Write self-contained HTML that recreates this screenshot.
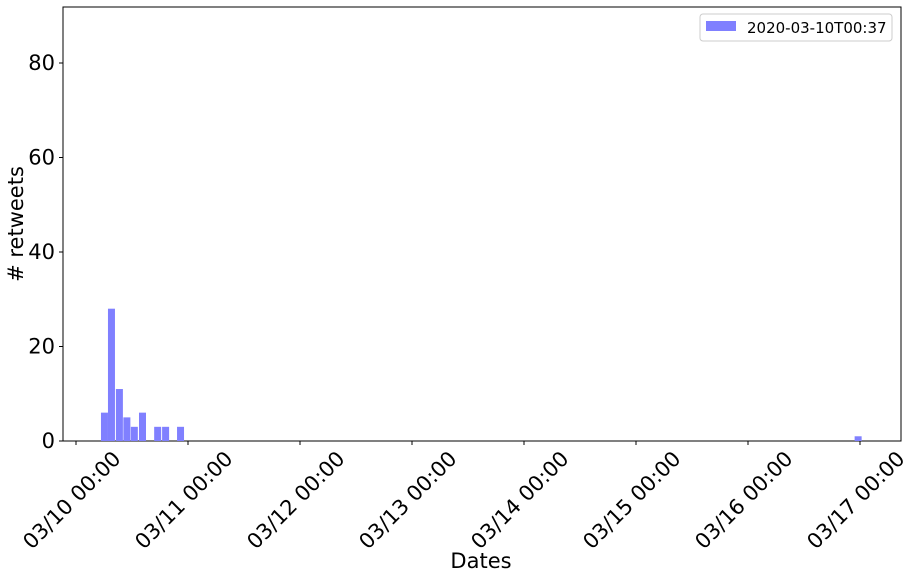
<!DOCTYPE html>
<html><head><meta charset="utf-8"><style>
body{margin:0;background:#fff;}
svg{display:block;font-family:"DejaVu Sans","Liberation Sans",sans-serif;}
</style></head><body>
<svg id="chart" width="916" height="578">
<rect x="63" y="7" width="838" height="434" fill="#fff" stroke="#000" stroke-width="1"/>
<g id="bars"></g><g id="axes"></g>
<g>
<rect x="700" y="14" width="192" height="27" rx="3" fill="#fff" stroke="#ccc"/>
<rect x="706" y="21" width="30" height="10" fill="#8080ff"/>
<text x="747" y="33" font-size="15">2020-03-10T00:37</text>
</g>
<text x="481" y="568" font-size="21" text-anchor="middle">Dates</text>
<text transform="translate(23,224) rotate(-90)" font-size="21" text-anchor="middle"># retweets</text>
</svg>
<script>
const hours=[6.1,7.6,9.3,10.9,12.5,14.25,17.5,19.2,22.4,167.6];
const counts=[6,28,11,5,3,6,3,3,3,1];
const yTicks=[0,20,40,60,80];
const xTickLabels=["03/10 00:00","03/11 00:00","03/12 00:00","03/13 00:00","03/14 00:00","03/15 00:00","03/16 00:00","03/17 00:00"];
const NS="http://www.w3.org/2000/svg";
const X=h=>76+h*112/24, Y=v=>441-v*4.725;
const bars=document.getElementById('bars'), axes=document.getElementById('axes');
hours.forEach((h,i)=>{const r=document.createElementNS(NS,'rect');
r.setAttribute('x',X(h)-3.5);r.setAttribute('width',7);
r.setAttribute('y',Y(counts[i]));r.setAttribute('height',441-Y(counts[i]));
r.setAttribute('fill','#8080ff');


bars.appendChild(r);});
yTicks.forEach(v=>{const l=document.createElementNS(NS,'line');
l.setAttribute('x1',59);l.setAttribute('x2',63);l.setAttribute('y1',Y(v));l.setAttribute('y2',Y(v));l.setAttribute('stroke','#000');axes.appendChild(l);
const t=document.createElementNS(NS,'text');t.setAttribute('x',55);t.setAttribute('y',Y(v)+7);
t.setAttribute('text-anchor','end');t.setAttribute('font-size','21');t.textContent=v;


axes.appendChild(t);});
xTickLabels.forEach((s,i)=>{const x=X(i*24);const l=document.createElementNS(NS,'line');
l.setAttribute('x1',x);l.setAttribute('x2',x);l.setAttribute('y1',441);l.setAttribute('y2',445);l.setAttribute('stroke','#000');axes.appendChild(l);
const t=document.createElementNS(NS,'text');t.setAttribute('font-size','21');t.setAttribute('text-anchor','end');
t.setAttribute('transform',`translate(${x+46},${460}) rotate(-45)`);t.textContent=s;


axes.appendChild(t);});
</script>
</body></html>
